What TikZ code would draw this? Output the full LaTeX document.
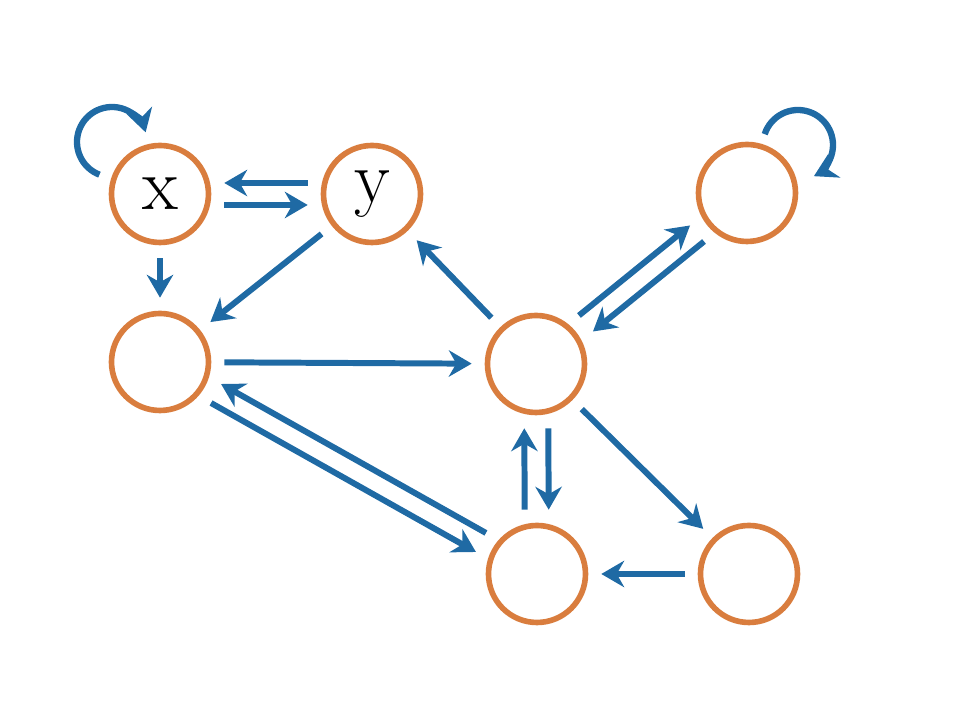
\documentclass[tikz,border=0pt]{standalone}
\usepackage{tikz}
\usetikzlibrary{arrows.meta}
\definecolor{edgeblue}{RGB}{31,106,164}
\definecolor{nodeorange}{RGB}{217,125,62}
\tikzset{
  state/.style={circle, draw=nodeorange, line width=1.6pt, minimum size=0.97cm, inner sep=0pt, font=\fontsize{21}{24}\selectfont},
  arr/.style={draw=edgeblue, line width=1.7pt, -{Stealth[length=6.5pt,width=7.5pt]}, shorten <=0.13cm, shorten >=0.13cm},
  loopy/.style={draw=edgeblue, line width=1.8pt, -{Stealth[length=6.5pt,width=7.5pt]}}
}
\begin{document}
\begin{tikzpicture}
          \useasboundingbox (0,0) rectangle (9.69,7.22);
          \node[state] (x) at (1.60,5.28) {x};
          \node[state] (y) at (3.72,5.28) {y};
          \node[state] (tr) at (7.47,5.29) {};
          \node[state] (lm) at (1.60,3.60) {};
          \node[state] (c) at (5.36,3.58) {};
          \node[state] (bc) at (5.37,1.48) {};
          \node[state] (br) at (7.49,1.48) {};

          % pairs in both directions
          \draw[arr, transform canvas={yshift=0.11cm}] (y) -- (x);
          \draw[arr, transform canvas={yshift=-0.11cm}] (x) -- (y);
          \draw[arr, transform canvas={shift={(-0.07,0.08)}}] (c) -- (tr);
          \draw[arr, transform canvas={shift={(0.07,-0.08)}}] (tr) -- (c);
          \draw[arr, transform canvas={shift={(0.05,0.095)}}] (bc) -- (lm);
          \draw[arr, transform canvas={shift={(-0.05,-0.095)}}] (lm) -- (bc);
          \draw[arr, transform canvas={xshift=-0.12cm}] (bc) -- (c);
          \draw[arr, transform canvas={xshift=0.12cm}] (c) -- (bc);

          % single edges
          \draw[arr] (x) -- (lm);
          \draw[arr] (y) -- (lm);
          \draw[arr] (lm) -- (c);
          \draw[arr] (c) -- (y);
          \draw[arr] (c) -- (br);
          \draw[arr] (br) -- (bc);

          % self loops
          \draw[loopy] ([shift={(-0.48,0.52)}]x.center) ++(249:0.35) arc[start angle=249, end angle=16, radius=0.35];
          \draw[loopy] ([shift={(0.51,0.48)}]tr.center) ++(162:0.35) arc[start angle=162, end angle=-63, radius=0.35];
        \end{tikzpicture}
\end{document}
